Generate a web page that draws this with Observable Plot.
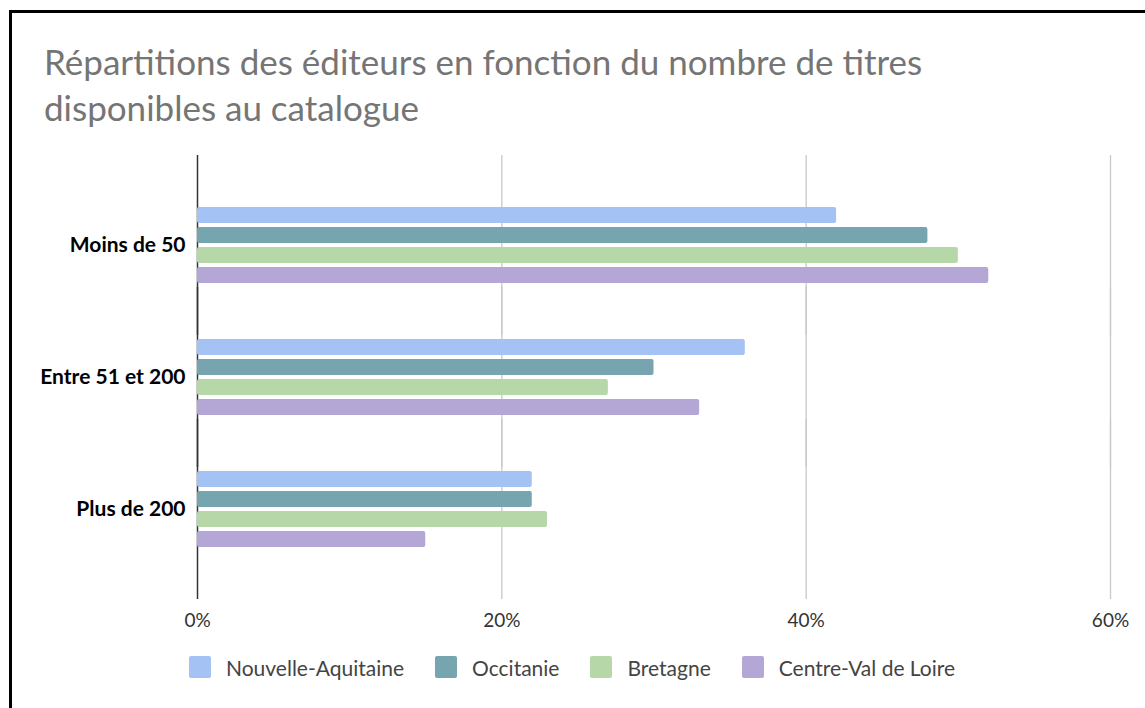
<!DOCTYPE html>
<html>
<head>
<meta charset="utf-8">
<script src="https://cdn.jsdelivr.net/npm/d3@7"></script>
<script src="https://cdn.jsdelivr.net/npm/@observablehq/plot@0.6"></script>
<style>
  html, body { margin: 0; padding: 0; background: #fff; }
  #wrap { position: relative; width: 1145px; height: 708px; overflow: hidden; font-family: Lato, "Open Sans", sans-serif; }
  #frame { position: absolute; left: 9px; top: 10px; width: 1200px; height: 800px; border-top: 3px solid #000; border-left: 3px solid #000; box-sizing: border-box; }
  #title { position: absolute; left: 44px; top: 38px; font-size: 35px; line-height: 46px; color: #757575; white-space: nowrap; }
  #chart { position: absolute; left: 0; top: 140px; }
  #legend { position: absolute; left: 189px; top: 656px; height: 22px; display: flex; align-items: center; font-size: 21px; color: #444; }
  .sw { width: 22px; height: 22px; border-radius: 2px; margin-right: 15px; }
  .lab { margin-right: 31px; }
</style>
</head>
<body>
<div id="wrap">
  <div id="frame"></div>
  <div id="title">Répartitions des éditeurs en fonction du nombre de titres<br>disponibles au catalogue</div>
  <div id="chart"></div>
  <div id="legend"></div>
</div>
<script>
// Data
const categories = ["Moins de 50", "Entre 51 et 200", "Plus de 200"];
const regions = ["Nouvelle-Aquitaine", "Occitanie", "Bretagne", "Centre-Val de Loire"];
const colors = ["#a4c2f4", "#76a5af", "#b6d7a8", "#b4a7d6"];
const nouvelleAquitaine = [42, 36, 22];
const occitanie = [48, 30, 22];
const bretagne = [50, 27, 23];
const centreValDeLoire = [52, 33, 15];
const xTicks = [0, 20, 40, 60];
const gridTicks = [20, 40, 60];

const seriesValues = [nouvelleAquitaine, occitanie, bretagne, centreValDeLoire];
const rows = [];
categories.forEach((c, i) => {
  regions.forEach((r, j) => rows.push({category: c, region: r, value: seriesValues[j][i]}));
});

const chart = Plot.plot({
  width: 1145,
  height: 500,
  marginLeft: 197,
  marginRight: 35,
  marginTop: 15,
  marginBottom: 42,
  style: {fontFamily: "Lato, 'Open Sans', sans-serif", background: "transparent", overflow: "visible"},
  x: {domain: [0, 60]},
  y: {domain: regions, axis: null, paddingInner: 0.22, paddingOuter: 1.3},
  fy: {domain: categories, paddingInner: 0, paddingOuter: 0.178},
  color: {domain: regions, range: colors},
  marks: [
    Plot.ruleX(gridTicks, {x: d => d, stroke: "#c8c8c8", strokeWidth: 1.3, insetTop: -24, insetBottom: -24}),
    Plot.ruleX([0], {x: d => d, stroke: "#333", strokeWidth: 1.5, insetTop: -24, insetBottom: -24}),
    Plot.barX(rows, {x: "value", y: "region", fy: "category", fill: "region", rx: 2}),
    Plot.axisX({ticks: xTicks, tickFormat: d => d + "%", tickSize: 0, tickPadding: 38, fontSize: 19, fill: "#333", label: null}),
    Plot.axisFy({anchor: "left", tickSize: 0, tickPadding: 12, fontSize: 21, fontWeight: "bold", fill: "#000", label: null})
  ]
});
document.getElementById("chart").appendChild(chart);

const legend = document.getElementById("legend");
regions.forEach((r, j) => {
  const sw = document.createElement("div");
  sw.className = "sw";
  sw.style.background = colors[j];
  const lab = document.createElement("div");
  lab.className = "lab";
  lab.textContent = r;
  legend.appendChild(sw);
  legend.appendChild(lab);
});
</script>
</body>
</html>
